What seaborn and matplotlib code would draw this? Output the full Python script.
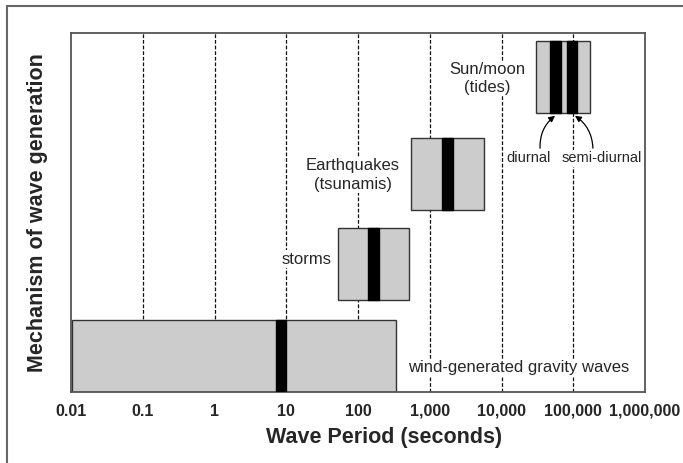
import matplotlib
matplotlib.use("Agg")
import matplotlib.pyplot as plt
from matplotlib.lines import Line2D
import seaborn as sns
import pandas as pd

# ---- data ----
mechanisms = ["wind-generated gravity waves", "storms", "Earthquakes\n(tsunamis)", "Sun/moon\n(tides)"]
range_low = [0.0104, 52, 555, 30200]          # seconds
range_high = [335, 509, 5620, 171700]         # seconds
row_base = [0.0, 1.27, 2.52, 3.87]
peak_mech = ["wind", "storms", "tsunamis", "diurnal", "semi-diurnal"]
peak_low = [7.1, 137, 1486, 47400, 81900]
peak_high = [10.0, 196, 2094, 67600, 113000]
peak_row = [0, 1, 2, 3, 3]
grid_periods = [0.1, 1, 10, 100, 1000, 10000, 100000]
tick_values = [0.01, 0.1, 1, 10, 100, 1000, 10000, 100000, 1000000]
tick_labels = ["0.01", "0.1", "1", "10", "100", "1,000", "10,000", "100,000", "1,000,000"]

boxes = pd.DataFrame({"mechanism": mechanisms, "low": range_low,
                      "high": range_high, "base": row_base})
peaks = pd.DataFrame({"name": peak_mech, "low": peak_low, "high": peak_high,
                      "base": [row_base[i] for i in peak_row]})

sns.set_theme(style="white")
plt.rcParams["font.family"] = ["Liberation Sans", "DejaVu Sans"]

W, H = 683, 463
fig = plt.figure(figsize=(W / 100, H / 100), dpi=100)
ax = fig.add_axes([71 / W, 1 - 391.5 / H, 574 / W, 358.5 / H])
ax.set_xscale("log")
ax.set_xlim(0.01, 1e6)
ax.set_ylim(0, 4.98)

# vertical reference lines
for g in grid_periods:
    ax.axvline(g, color="#111111", lw=0.9, ls=(0, (3, 1.5)), zorder=1)

# range boxes
ax.barh(boxes["base"], boxes["high"] - boxes["low"], left=boxes["low"], height=1.0,
        align="edge", color="#cccccc", edgecolor="#333333", linewidth=1.0, zorder=2)
# dominant period bars
ax.barh(peaks["base"], peaks["high"] - peaks["low"], left=peaks["low"], height=1.0,
        align="edge", color="black", edgecolor="black", linewidth=1.0, zorder=3)

# labels
fs = 12
ax.text(500, 0.33, "wind-generated gravity waves", ha="left", va="center", fontsize=fs, zorder=4,
        bbox=dict(facecolor="white", edgecolor="none", pad=1))
ax.text(43.4, 1.84, "storms", ha="right", va="center", fontsize=fs, zorder=4,
        bbox=dict(facecolor="white", edgecolor="none", pad=1))
ax.text(84, 3.01, "Earthquakes\n(tsunamis)", ha="center", va="center", fontsize=fs,
        linespacing=1.3, zorder=4, bbox=dict(facecolor="white", edgecolor="none", pad=1))
ax.text(6380, 4.35, "Sun/moon\n(tides)", ha="center", va="center", fontsize=fs,
        linespacing=1.25, zorder=4, bbox=dict(facecolor="white", edgecolor="none", pad=1))
ax.text(24200, 3.24, "diurnal", ha="center", va="center", fontsize=10.5, zorder=4,
        bbox=dict(facecolor="white", edgecolor="none", pad=1))
ax.text(249000, 3.24, "semi-diurnal", ha="center", va="center", fontsize=10.5, zorder=4,
        bbox=dict(facecolor="white", edgecolor="none", pad=1))
ax.annotate("", xy=(55700, 3.83), xytext=(34400, 3.38),
            arrowprops=dict(arrowstyle="-|>", color="black", lw=0.9, mutation_scale=9,
                            connectionstyle="arc3,rad=-0.25", shrinkA=0, shrinkB=0), zorder=5)
ax.annotate("", xy=(105600, 3.83), xytext=(188000, 3.38),
            arrowprops=dict(arrowstyle="-|>", color="black", lw=0.9, mutation_scale=9,
                            connectionstyle="arc3,rad=0.25", shrinkA=0, shrinkB=0), zorder=5)

ax.set_xticks(tick_values)
ax.set_xticklabels(tick_labels, fontsize=11.5, fontweight="bold")
ax.xaxis.set_minor_locator(matplotlib.ticker.NullLocator())
ax.tick_params(axis="x", length=0, pad=9)
ax.set_yticks([])
for s in ax.spines.values():
    s.set_color("#555555")
    s.set_linewidth(1.3)
    s.set_visible(True)

ax.set_xlabel("Wave Period (seconds)", fontsize=15.5, fontweight="bold")
ax.xaxis.set_label_coords(0.545, -0.127)
ax.xaxis.label.set_va("center")
ax.set_ylabel("Mechanism of wave generation", fontsize=15.5, fontweight="bold")
ax.yaxis.set_label_coords(-0.0575, 0.498)
ax.yaxis.label.set_va("center")

# figure border (top and left)
fig.add_artist(Line2D([7 / W, 1.0], [1 - 6 / H, 1 - 6 / H], color="#666666", lw=1.5))
fig.add_artist(Line2D([7 / W, 7 / W], [0.0, 1 - 6 / H], color="#666666", lw=1.5))

fig.savefig("out.png", dpi=100)
